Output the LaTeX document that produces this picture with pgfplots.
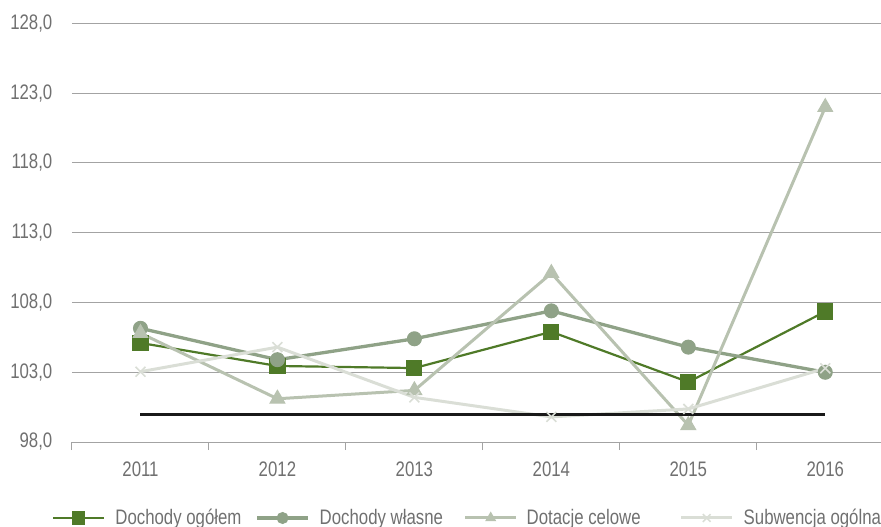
\documentclass[border=0pt]{standalone}
\usepackage{pgfplots}
\pgfplotsset{compat=1.18}
\usepackage{fontspec}
\setmainfont[FakeStretch=0.8]{Liberation Sans}

\definecolor{cTotal}{HTML}{4F7A28}
\definecolor{cOwn}{HTML}{8FA287}
\definecolor{cTarget}{HTML}{B8C2B0}
\definecolor{cSub}{HTML}{DADED6}
\definecolor{cGrid}{HTML}{A3A3A3}
\definecolor{cText}{HTML}{707070}
\newcommand{\lbl}{\fontsize{21bp}{25bp}\selectfont}

\begin{document}
\begin{tikzpicture}
\begin{axis}[
  scale only axis, width=809bp, height=418.5bp,
  xmin=-0.5, xmax=5.407, ymin=98, ymax=128,
  axis x line*=bottom, axis y line*=left,
  y axis line style={draw=none},
  x axis line style={cGrid, line width=1bp},
  xtick={0,...,5}, xticklabels={2011,2012,2013,2014,2015,2016},
  minor xtick={-0.5,0.5,...,4.5},
  major tick length=0pt, minor tick length=8bp, tick align=outside,
  minor tick style={cGrid, line width=1bp},
  ytick={98,103,...,128},
  ymajorgrids, grid style={cGrid, line width=1bp},
  ytick style={draw=none},
  tick label style={font=\lbl, text=cText},
  xticklabel style={anchor=north, inner sep=0pt, yshift=-19.5bp},
  yticklabel style={anchor=east, inner sep=0pt, xshift=-19.5bp,
    /pgf/number format/.cd, fixed, fixed zerofill, precision=1, use comma, assume math mode=true},
  legend columns=-1,
  legend style={at={(rel axis cs:-0.0247,-0.1816)}, anchor=west,
    draw=none, fill=none, inner sep=0pt, column sep=0pt,
    nodes={inner sep=0pt, text=cText, font=\lbl}},
  legend image code/.code={\draw[mark repeat=2, mark phase=2, #1, mark size=5.5bp]
    plot coordinates {(0bp,0bp) (25.5bp,0bp) (51bp,0bp)};},
]
\addplot[cTotal, line width=2.2bp, mark=square*, mark size=7bp, mark options={solid, fill=cTotal}]
  coordinates {(0,105.1) (1,103.45) (2,103.3) (3,105.9) (4,102.3) (5,107.35)};
\addlegendentry{\makebox[150bp][l]{\hspace{10bp}Dochody ogółem}}
\addplot[cOwn, line width=3.3bp, mark=*, mark size=7bp, mark options={solid, fill=cOwn, line width=1bp}]
  coordinates {(0,106.15) (1,103.9) (2,105.4) (3,107.4) (4,104.8) (5,103.0)};
\addlegendentry{\makebox[154bp][l]{\hspace{10bp}Dochody własne}}
\addplot[cTarget, line width=3bp, mark=triangle*, mark size=8.5bp, mark options={solid, fill=cTarget, line width=1bp}]
  coordinates {(0,105.8) (1,101.1) (2,101.7) (3,110.1) (4,99.2) (5,122.0)};
\addlegendentry{\makebox[162bp][l]{\hspace{9bp}Dotacje celowe}}
\addplot[cSub, line width=3bp, mark=x, mark size=7bp, mark options={solid, line width=1.6bp}]
  coordinates {(0,103.04) (1,104.8) (2,101.2) (3,99.8) (4,100.37) (5,103.28)};
\addlegendentry{\hspace{10bp}Subwencja ogólna}
% reference level 100
\addplot[black!90, line width=3bp, no markers, forget plot]
  coordinates {(0,100) (5,100)};
\end{axis}
\pgfresetboundingbox
\useasboundingbox (-72bp,-85bp) rectangle (809bp,442bp);
\end{tikzpicture}
\end{document}
